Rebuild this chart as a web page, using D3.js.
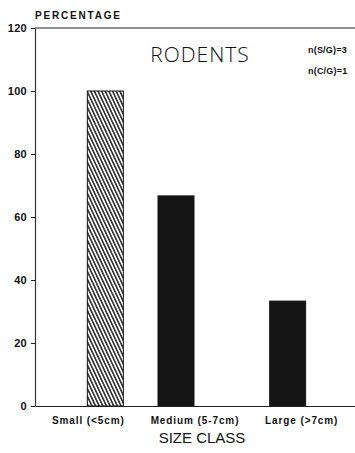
<!DOCTYPE html>
<html>
<head>
<meta charset="utf-8">
<script src="https://cdn.jsdelivr.net/npm/d3@7"></script>
<style>
  html, body { margin: 0; padding: 0; background: #fff; }
  svg { display: block; font-family: "Liberation Sans", Arial, sans-serif; }
</style>
</head>
<body>
<div id="chart"></div>
<script>
// Rodent prey size classes, percentage of samples
const categories = ["Small (<5cm)", "Medium (5-7cm)", "Large (>7cm)"];
const percentages = [100, 66.7, 33.3];
const hatched = [true, false, false];
const yTicks = [0, 20, 40, 60, 80, 100, 120];
const sampleNotes = ["n(S/G)=3", "n(C/G)=1"];

const width = 355, height = 453;
const margin = { top: 28, right: 0, bottom: 47, left: 35 };

// bar placement within each category slot (px from slot centre) and bar width
const barShift = [17, -19, -14];
const barWidth = 36;

const svg = d3.select("#chart").append("svg")
  .attr("width", width).attr("height", height);

const defs = svg.append("defs");
const pat = defs.append("pattern")
  .attr("id", "hatch")
  .attr("patternUnits", "userSpaceOnUse")
  .attr("width", 3.3).attr("height", 10)
  .attr("patternTransform", "rotate(-25)");
pat.append("rect").attr("width", 3.3).attr("height", 10).attr("fill", "#fff");
pat.append("line").attr("x1", 0.8).attr("y1", 0).attr("x2", 0.8).attr("y2", 10)
  .attr("stroke", "#111").attr("stroke-width", 1.4);

const x = d3.scaleBand()
  .domain(categories)
  .range([margin.left, width - margin.right])
  .padding(0);

const y = d3.scaleLinear()
  .domain([0, 120])
  .range([height - margin.bottom, margin.top]);

// frame: top rule and baseline
svg.append("line")
  .attr("x1", margin.left).attr("x2", width)
  .attr("y1", y(120)).attr("y2", y(120))
  .attr("stroke", "#222").attr("stroke-width", 1.2);

// bars
svg.append("g").selectAll("rect")
  .data(categories)
  .join("rect")
  .attr("x", (d, i) => x(d) + x.bandwidth() / 2 + barShift[i] - barWidth / 2)
  .attr("width", barWidth)
  .attr("y", (d, i) => y(percentages[i]))
  .attr("height", (d, i) => y(0) - y(percentages[i]))
  .attr("fill", (d, i) => hatched[i] ? "url(#hatch)" : "#141414")
  .attr("stroke", "#141414")
  .attr("stroke-width", 1);

// y axis
const yAxis = svg.append("g")
  .attr("transform", `translate(${margin.left},0)`)
  .call(d3.axisLeft(y).tickValues(yTicks).tickSize(4).tickSizeOuter(0).tickPadding(4));
yAxis.select(".domain").attr("stroke", "#333").attr("stroke-width", 1.2);
yAxis.selectAll(".tick line").attr("stroke", "#222");
yAxis.selectAll(".tick text")
  .attr("font-size", 11).attr("font-weight", "bold").attr("fill", "#111")
  .attr("letter-spacing", 0.3)
  .attr("font-family", "'Liberation Sans', Arial, sans-serif");

// x axis
const xAxis = svg.append("g")
  .attr("transform", `translate(0,${y(0)})`)
  .call(d3.axisBottom(x).tickSize(0).tickSizeOuter(0).tickPadding(11));
xAxis.select(".domain").attr("stroke", "#222").attr("stroke-width", 1.2);
xAxis.selectAll(".tick text")
  .attr("font-size", 10).attr("font-weight", "bold").attr("fill", "#111")
  .attr("letter-spacing", 0.9)
  .attr("font-family", "'Liberation Sans', Arial, sans-serif");

// titles
svg.append("text")
  .attr("x", 35).attr("y", 19)
  .attr("font-size", 10).attr("font-weight", "bold")
  .attr("letter-spacing", 1.8).attr("fill", "#111")
  .text("PERCENTAGE");

svg.append("text")
  .attr("x", 200).attr("y", 62)
  .attr("text-anchor", "middle")
  .attr("font-size", 21).attr("fill", "#111")
  .attr("font-family", "'Open Sans', 'Liberation Sans', sans-serif")
  .attr("font-weight", 300)
  .attr("letter-spacing", 1)
  .text("RODENTS");

svg.append("g").selectAll("text")
  .data(sampleNotes)
  .join("text")
  .attr("x", 308)
  .attr("y", (d, i) => 53 + i * 21)
  .attr("font-size", 9).attr("font-weight", "bold")
  .attr("letter-spacing", 0.2).attr("fill", "#111")
  .text(d => d);

svg.append("text")
  .attr("x", 202).attr("y", 443)
  .attr("text-anchor", "middle")
  .attr("font-size", 15).attr("fill", "#111")
  .text("SIZE CLASS");
</script>
</body>
</html>
